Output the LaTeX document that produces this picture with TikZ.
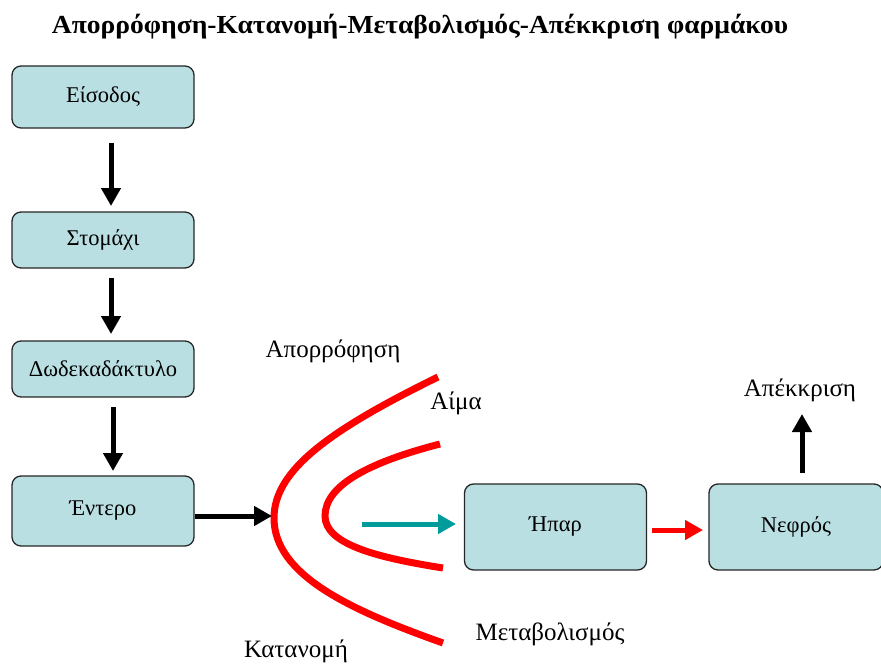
\documentclass[tikz,border=0pt]{standalone}
\usepackage{fontspec}
\setmainfont{Liberation Serif}
\usetikzlibrary{arrows.meta}
\definecolor{boxfill}{HTML}{B9DFE3}
\definecolor{tealarrow}{HTML}{009B9B}
\begin{document}
\begin{tikzpicture}[x=1bp,y=-1bp,
  organ/.style={draw=black!85,line width=1.3bp,fill=boxfill,rounded corners=9bp,
    minimum width=182bp,font=\fontsize{22.5bp}{24bp}\selectfont},
  lbl/.style={font=\fontsize{25bp}{27bp}\selectfont},
  blk/.style={line width=5bp,-{Triangle[length=18bp,width=19bp]}},
  curve/.style={red,line width=7bp}]
\useasboundingbox (0,0) rectangle (881,664);
% title
\node (title) at (420,27) {\scalebox{1.06}[1]{\fontsize{26bp}{28bp}\selectfont\bfseries Απορρόφηση-Κατανομή-Μεταβολισμός-Απέκκριση φαρμάκου}};
% boxes
\node[organ,minimum height=62bp] (eis) at (103,97) {Είσοδος};
\node[organ,minimum height=56bp] (sto) at (103,240) {Στομάχι};
\node[organ,minimum height=56bp] (dod) at (103,369) {Δωδεκαδάκτυλο};
\node[organ,minimum height=70bp] (ent) at (103,511) {Έντερο};
\node[organ,minimum height=86bp] (hpar) at (555.5,527) {Ήπαρ};
\node[organ,minimum height=86bp,minimum width=174bp] (nef) at (796,527) {Νεφρός};
% vertical arrows
\coordinate (a1s) at (111,143); \coordinate (a1e) at (111,206);
\coordinate (a2s) at (111,278); \coordinate (a2e) at (111,334);
\coordinate (a3s) at (113,407); \coordinate (a3e) at (113,471);
\draw[blk] (a1s) -- (a1e);
\draw[blk] (a2s) -- (a2e);
\draw[blk] (a3s) -- (a3e);
% curves
\coordinate (o1) at (438,377); \coordinate (o2) at (274,518); \coordinate (o3) at (443,643);
\coordinate (i1) at (440,444); \coordinate (i2) at (325,516); \coordinate (i3) at (443,568);
\draw[curve] (o1) .. controls (330,430) and (274,470) .. (o2) .. controls (274,575) and (350,610) .. (o3);
\draw[curve] (i1) .. controls (370,462) and (325,485) .. (i2) .. controls (325,545) and (380,558) .. (i3);
% horizontal arrows
\coordinate (hx) at (272,516);
\draw[blk] (ent.east |- hx) -- (hx);
\coordinate (t1) at (362,524); \coordinate (t2) at (456,524);
\draw[tealarrow,line width=5bp,-{Triangle[length=18bp,width=19bp]}] (t1) -- (t2);
\coordinate (r1) at (652,530); \coordinate (r2) at (703,530);
\draw[red,line width=5bp,-{Triangle[length=18bp,width=19bp]}] (r1) -- (r2);
\coordinate (u1) at (802,473); \coordinate (u2) at (802,414);
\draw[blk] (u1) -- (u2);
% labels
\node[lbl] (apo) at (333,351) {Απορρόφηση};
\node[lbl] (aima) at (456,403) {Αίμα};
\node[lbl] (kat) at (296,651) {Κατανομή};
\node[lbl] (met) at (550,634) {Μεταβολισμός};
\node[lbl] (apek) at (800,390) {Απέκκριση};
\end{tikzpicture}
\end{document}
